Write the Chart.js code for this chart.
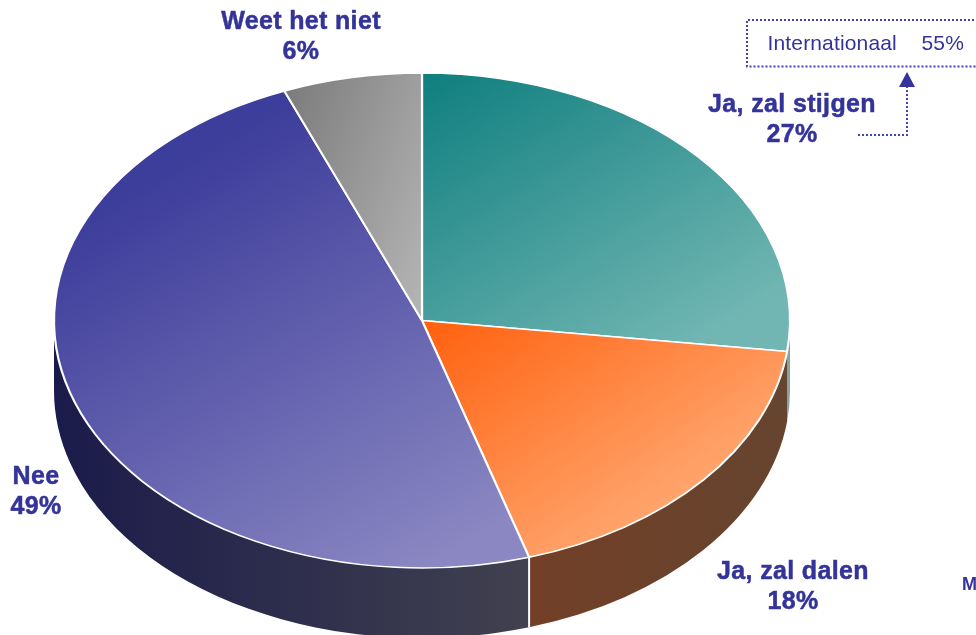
<!DOCTYPE html>
<html>
<head>
<meta charset="utf-8">
<script src="https://cdn.jsdelivr.net/npm/chart.js@4"></script>
<style>
  html, body { margin: 0; padding: 0; background: #fff; overflow: hidden; }
  canvas { display: block; }
</style>
</head>
<body>
<canvas id="pie" width="976" height="635"></canvas>
<script>
const categories = ['Ja, zal stijgen', 'Ja, zal dalen', 'Nee', 'Weet het niet'];
// slice angles, the labels show them rounded
const values = [27, 18.3, 48.6, 6.1];
const calloutText = 'Internationaal';
const calloutValue = '55%';
const clippedText = 'M';

// label anchors, one per category
const labelX = [792, 793, 36, 301];
const labelY = [105, 572, 477, 22];

const TILT = 0.6725;     // squash of the pie, gives the 3D look
const DEPTH = 70;        // height of the wall
const RADIUS = 368;
const BLUE = '#333399';

// fractions of the radius, relative to the centre
const topGradients = [
    [-0.05, -1, 0.85, 0, '#0c7d7d', '#71b6b3'],
    [0.02, 0.02, 0.72, 0.72, '#ff6210', '#ffa66f'],
    [-0.75, -0.55, 0.35, 0.7, '#3d3d9b', '#8a87c2'],
    [-0.37, -0.92, 0.19, -0.79, '#7c7c7c', '#b6b6b6']
];
const wallColors = [
    ['#83a3a3', '#83a3a3'],
    ['#723f27', '#66442f'],
    ['#1b1b4b', '#41414f'],
    ['#555555', '#555555']
];

function topColor(c) {
    const g = topGradients[c.dataIndex];
    const area = c.chart.chartArea;
    if (!g || !area) return '#888';
    const cx = (area.left + area.right) / 2;
    const cy = (area.top + area.bottom) / 2;
    const grad = c.chart.ctx.createLinearGradient(cx + g[0] * RADIUS, cy + g[1] * RADIUS, cx + g[2] * RADIUS, cy + g[3] * RADIUS);
    grad.addColorStop(0, g[4]);
    grad.addColorStop(1, g[5]);
    return grad;
}

function drawWalls(chart) {
    const ctx = chart.ctx;
    const arcs = chart.getDatasetMeta(0).data;
    ctx.save();
    arcs.forEach((arc, i) => {
        // only the front half of the pie has a visible wall
        const a0 = Math.max(arc.startAngle, 0);
        const a1 = Math.min(arc.endAngle, Math.PI);
        if (a1 <= a0) return;
        const r = arc.outerRadius;
        const grad = ctx.createLinearGradient(arc.x + r * Math.cos(a1), 0, arc.x + r * Math.cos(a0), 0);
        grad.addColorStop(0, wallColors[i][0]);
        grad.addColorStop(1, wallColors[i][1]);
        ctx.beginPath();
        ctx.ellipse(arc.x, arc.y + DEPTH, r, r * TILT, 0, a0, a1);
        ctx.ellipse(arc.x, arc.y, r, r * TILT, 0, a1, a0, true);
        ctx.closePath();
        ctx.fillStyle = grad;
        ctx.fill();
    });
    // white seams between two walls, on top of both fills
    arcs.forEach((arc) => {
        const a1 = arc.endAngle;
        if (a1 <= 0.2 || a1 >= Math.PI) return;
        const sx = arc.x + arc.outerRadius * Math.cos(a1);
        const sy = arc.y + arc.outerRadius * TILT * Math.sin(a1);
        ctx.beginPath();
        ctx.moveTo(sx, sy);
        ctx.lineTo(sx, sy + DEPTH);
        ctx.strokeStyle = '#fff';
        ctx.lineWidth = 2;
        ctx.stroke();
    });
    ctx.restore();
}

function drawLabels(chart) {
    const ctx = chart.ctx;
    ctx.save();
    ctx.fillStyle = BLUE;
    ctx.textAlign = 'center';
    ctx.textBaseline = 'middle';
    ctx.font = 'bold 25px "Liberation Sans", Arial, sans-serif';
    ctx.letterSpacing = '0.35px';
    // a thin stroke, the labels in the picture are heavier than plain bold
    ctx.strokeStyle = BLUE;
    ctx.lineWidth = 0.5;
    categories.forEach((name, i) => {
        const pct = Math.round(values[i]) + '%';
        ctx.fillText(name, labelX[i], labelY[i]);
        ctx.strokeText(name, labelX[i], labelY[i]);
        ctx.fillText(pct, labelX[i], labelY[i] + 30.5);
        ctx.strokeText(pct, labelX[i], labelY[i] + 30.5);
    });
    ctx.letterSpacing = '0px';

    // callout box at the top right, runs off the page
    ctx.strokeStyle = '#4545a8';
    ctx.lineWidth = 2;
    ctx.setLineDash([2, 2]);
    ctx.beginPath();
    ctx.moveTo(990, 20);
    ctx.lineTo(747, 20);
    ctx.lineTo(747, 66.5);
    ctx.lineTo(990, 66.5);
    ctx.stroke();
    ctx.beginPath();
    ctx.moveTo(858, 135);
    ctx.lineTo(907, 135);
    ctx.lineTo(907, 86);
    ctx.stroke();
    ctx.setLineDash([]);

    ctx.beginPath();
    ctx.moveTo(907, 72);
    ctx.lineTo(915, 87);
    ctx.lineTo(899, 87);
    ctx.closePath();
    ctx.fill();

    ctx.textAlign = 'left';
    ctx.font = '21px "Liberation Sans", Arial, sans-serif';
    ctx.letterSpacing = '0.15px';
    ctx.fillText(calloutText, 767.5, 44);
    ctx.fillText(calloutValue, 921.5, 44);
    ctx.letterSpacing = '0px';

    ctx.font = 'bold 18px "Liberation Sans", Arial, sans-serif';
    ctx.fillText(clippedText, 962, 585);
    ctx.restore();
}

const tiltPlugin = {
    id: 'tilt',
    beforeDatasetsDraw(chart) {
        drawWalls(chart);
        const arc = chart.getDatasetMeta(0).data[0];
        chart.ctx.save();
        chart.ctx.translate(arc.x, arc.y);
        chart.ctx.scale(1, TILT);
        chart.ctx.translate(-arc.x, -arc.y);
    },
    afterDatasetsDraw(chart) {
        chart.ctx.restore();
        drawLabels(chart);
    }
};

new Chart(document.getElementById('pie'), {
    type: 'pie',
    data: {
        labels: categories,
        datasets: [{
            data: values,
            backgroundColor: topColor,
            borderColor: '#ffffff',
            borderWidth: 2.2,
            radius: RADIUS
        }]
    },
    options: {
        responsive: false,
        animation: false,
        layout: { padding: { top: 6, right: 132, bottom: 0, left: 0 } },
        plugins: {
            legend: { display: false },
            tooltip: { enabled: false }
        },
        events: []
    },
    plugins: [tiltPlugin]
});
</script>
</body>
</html>
